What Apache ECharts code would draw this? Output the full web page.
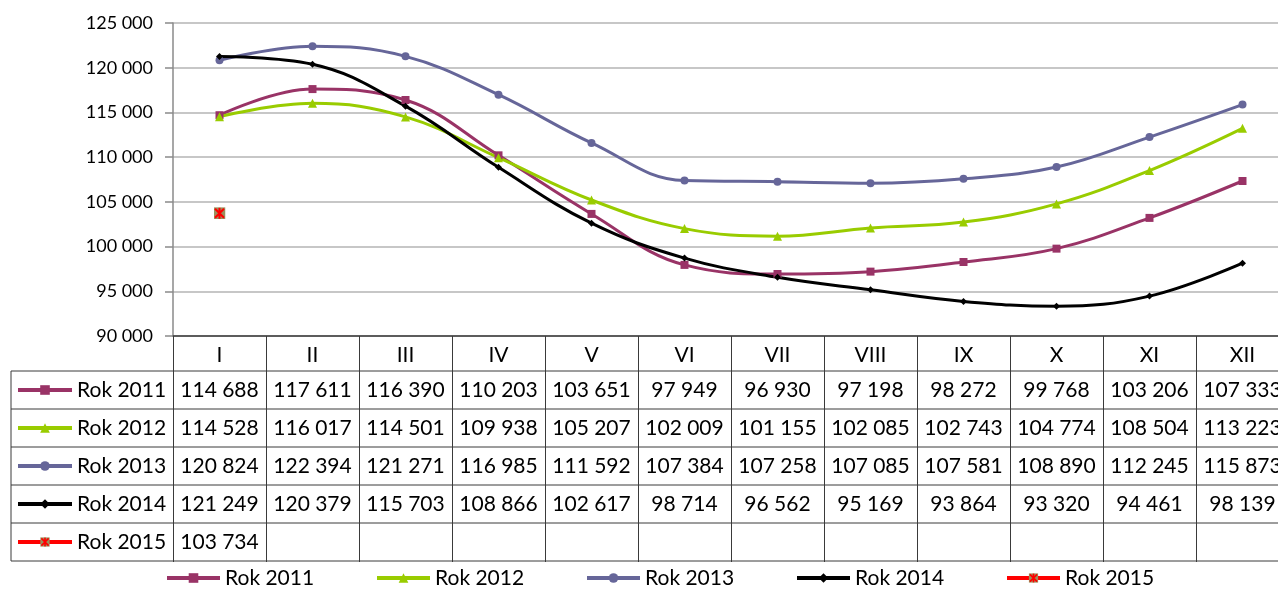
<!DOCTYPE html>
<html><head><meta charset="utf-8">
<script src="https://cdn.jsdelivr.net/npm/echarts@6/dist/echarts.min.js"></script>
<style>html,body{margin:0;padding:0;background:#fff}#c{width:1278px;height:589px}</style>
</head><body><div id="c"></div>
<script>
const months = ['I','II','III','IV','V','VI','VII','VIII','IX','X','XI','XII'];
const seriesNames = ['Rok 2011','Rok 2012','Rok 2013','Rok 2014','Rok 2015'];
const rok2011 = [114688,117611,116390,110203,103651,97949,96930,97198,98272,99768,103206,107333];
const rok2012 = [114528,116017,114501,109938,105207,102009,101155,102085,102743,104774,108504,113223];
const rok2013 = [120824,122394,121271,116985,111592,107384,107258,107085,107581,108890,112245,115873];
const rok2014 = [121249,120379,115703,108866,102617,98714,96562,95169,93864,93320,94461,98139];
const rok2015 = [103734,null,null,null,null,null,null,null,null,null,null,null];
const yTicks = {min:90000, max:125000, step:5000};

const FONT = 'Lato, "Open Sans", sans-serif';
const fmt = v => String(v).replace(/\B(?=(\d{3})+(?!\d))/g, ' ');
const mark2015 = 'image://data:image/svg+xml;utf8,' + encodeURIComponent(
  '<svg xmlns="http://www.w3.org/2000/svg" width="12" height="12"><rect x="0" y="0" width="12" height="12" fill="#9C8F5C"/><path d="M1.5 1.5L10.5 10.5M10.5 1.5L1.5 10.5M6 0.5V11.5" stroke="#FF0000" stroke-width="2"/></svg>');

const allData = [rok2011, rok2012, rok2013, rok2014, rok2015];
const colors = ['#993366','#99CC00','#666699','#000000','#FF0000'];
const symbols = ['rect','triangle','circle','diamond', mark2015];
const symSizes = [8,9,8,7,12];

const chart = echarts.init(document.getElementById('c'));
const series = allData.map((d,i)=>({
  name: seriesNames[i], type:'line', data:d, smooth:0.4,
  symbol: symbols[i], symbolSize: symSizes[i], showSymbol:true,
  lineStyle:{width:3, color:colors[i]},
  itemStyle:{color:colors[i]},
  connectNulls:false, animation:false
}));

const GRID = {left:173, right:-11, top:23, bottom:253, outerBoundsMode:'none', containLabel:false};
chart.setOption({
  animation:false,
  textStyle:{fontFamily:FONT},
  grid: GRID,
  xAxis:{type:'category', data:months, boundaryGap:true,
    axisLine:{show:true, lineStyle:{color:'#3a3a3a', width:1.5}},
    axisTick:{show:true, length:226, lineStyle:{color:'#3a3a3a', width:1}},
    axisLabel:{color:'#000', fontSize:21, fontFamily:FONT, margin:8, lineHeight:22},
    splitLine:{show:false}},
  yAxis:{type:'value', min:yTicks.min, max:yTicks.max, interval:yTicks.step,
    axisLine:{show:true, lineStyle:{color:'#8a8a8a', width:1.5}},
    axisTick:{show:true, length:8, lineStyle:{color:'#8a8a8a', width:1.5}},
    axisLabel:{color:'#000', fontSize:18, fontFamily:FONT, margin:20, formatter:v=>fmt(v)},
    splitLine:{show:true, lineStyle:{color:'#B5B5B5', width:1.5}}},
  legend:[
    {data:seriesNames, orient:'horizontal', left:165, top:565, padding:0, itemWidth:53, itemHeight:12, itemGap:12,
     lineStyle:{width:4},
     textStyle:{fontSize:21, fontFamily:FONT, color:'#000', width:138, lineHeight:26}},
    {data:seriesNames, orient:'vertical', left:16, top:377, padding:0, itemWidth:54, itemHeight:12, itemGap:12,
     lineStyle:{width:4},
     textStyle:{fontSize:21, fontFamily:FONT, color:'#000', lineHeight:26}}
  ],
  series: series
});

// data table below the plot
const rowTop = 371, rowH = 38, tableLeft = 11;
const xs = months.map((m,i)=>chart.convertToPixel({xAxisIndex:0}, m));
const step = xs[1]-xs[0];
const rightEdge = xs[xs.length-1] + step/2;
const g = [];
for (let r=0; r<=allData.length; r++) {
  g.push({type:'line', silent:true, shape:{x1:tableLeft, y1:rowTop+r*rowH, x2:rightEdge, y2:rowTop+r*rowH},
    style:{stroke:'#3a3a3a', lineWidth:1}});
}
g.push({type:'line', silent:true, shape:{x1:tableLeft, y1:rowTop, x2:tableLeft, y2:rowTop+allData.length*rowH},
  style:{stroke:'#3a3a3a', lineWidth:1}});
allData.forEach((d,r)=>{
  d.forEach((v,i)=>{
    if (v==null) return;
    g.push({type:'text', silent:true, x:xs[i], y:rowTop+r*rowH+rowH/2,
      style:{text:fmt(v), fontSize:21, fontFamily:FONT, fill:'#000', align:'center', verticalAlign:'middle'}});
  });
});
chart.setOption({graphic:{elements:g}});
</script></body></html>
